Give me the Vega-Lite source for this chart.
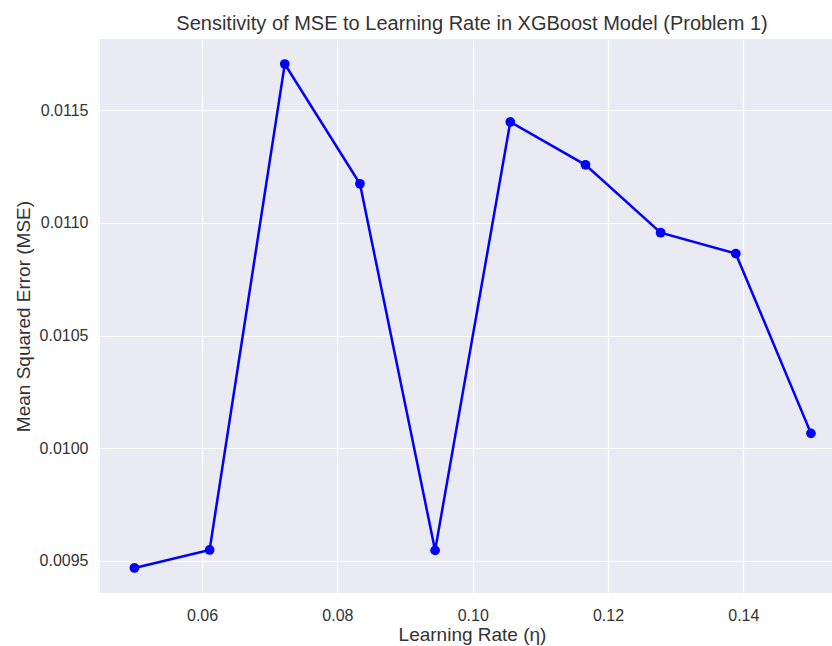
{
  "$schema": "https://vega.github.io/schema/vega-lite/v6.json",
  "width": 732,
  "height": 554,
  "autosize": {"type": "none"},
  "padding": {"left": 100, "top": 39, "right": 0, "bottom": 53},
  "background": "white",
  "config": {
    "view": {"fill": "#EAEAF2", "stroke": null},
    "font": "Liberation Sans",
    "axis": {
      "grid": true,
      "gridColor": "white",
      "gridWidth": 1.2,
      "domain": false,
      "ticks": false,
      "labelFont": "Liberation Sans",
      "labelFontSize": 16,
      "labelColor": "#333333",
      "titleFont": "Liberation Sans",
      "titleFontSize": 19,
      "titleFontWeight": "normal",
      "titleColor": "#333333"
    }
  },
  "title": {
    "text": "Sensitivity of MSE to Learning Rate in XGBoost Model (Problem 1)",
    "fontSize": 20,
    "fontWeight": "normal",
    "color": "#333333",
    "font": "Liberation Sans",
    "offset": 5,
    "dx": 6
  },
  "data": {
    "values": [
      {"lr": 0.05, "mse": 0.009469},
      {"lr": 0.061111, "mse": 0.009549},
      {"lr": 0.072222, "mse": 0.011704},
      {"lr": 0.083333, "mse": 0.011173},
      {"lr": 0.094444, "mse": 0.009547},
      {"lr": 0.105556, "mse": 0.011447},
      {"lr": 0.116667, "mse": 0.011257},
      {"lr": 0.127778, "mse": 0.010956},
      {"lr": 0.138889, "mse": 0.010863},
      {"lr": 0.15, "mse": 0.010066}
    ]
  },
  "encoding": {
    "x": {
      "field": "lr",
      "type": "quantitative",
      "scale": {"domain": [0.04491, 0.15311], "nice": false, "zero": false},
      "axis": {"values": [0.06, 0.08, 0.10, 0.12, 0.14], "format": ".2f", "labelPadding": 14, "title": "Learning Rate (η)", "titlePadding": 2, "titleX": 372}
    },
    "y": {
      "field": "mse",
      "type": "quantitative",
      "scale": {"domain": [0.009358, 0.011815], "nice": false, "zero": false},
      "axis": {"values": [0.0095, 0.0100, 0.0105, 0.0110, 0.0115], "format": ".4f", "labelPadding": 12, "title": "Mean Squared Error (MSE)", "titlePadding": 6}
    }
  },
  "layer": [
    {"mark": {"type": "line", "color": "#0000FF", "strokeWidth": 2.5}},
    {"mark": {"type": "point", "filled": true, "color": "#0000FF", "size": 95, "opacity": 1}}
  ]
}
